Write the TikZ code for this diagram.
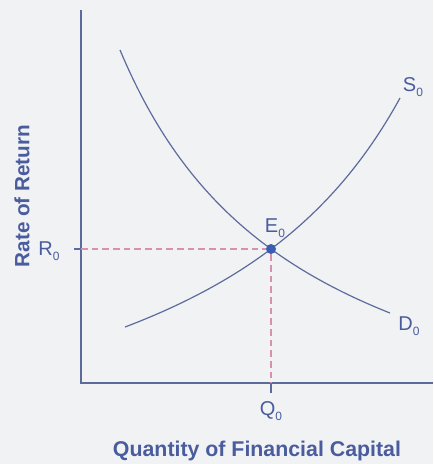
\documentclass[tikz,border=0pt]{standalone}
\usepackage{fontspec}
\setmainfont{Liberation Sans}
\definecolor{bg}{HTML}{F1F2F4}
\definecolor{curve}{HTML}{5C6B9C}
\definecolor{txt}{HTML}{4A5C9E}
\definecolor{dash}{HTML}{D98FAE}
\definecolor{dot}{HTML}{3A5DB0}
\newcommand{\zsub}{\raisebox{-0.45ex}{\fontsize{9}{9}\selectfont 0}}
\begin{document}
\begin{tikzpicture}[x=0.75pt,y=-0.75pt,
  axis/.style={draw=curve,line width=1.1pt},
  crv/.style={draw=curve,line width=0.9pt},
  guide/.style={draw=dash,line width=0.8pt,dash pattern=on 5pt off 3pt},
  lbl/.style={text=txt,font=\fontsize{15}{17}\selectfont,inner sep=0pt},
  ttl/.style={text=txt,font=\bfseries\fontsize{16}{18}\selectfont,inner sep=0pt}]
\fill[bg] (0,0) rectangle (433,464);
\useasboundingbox (0,0) rectangle (433,464);
\coordinate (top) at (81,10);
\coordinate (org) at (81,383);
\coordinate (xend) at (433,383);
\draw[axis] (top) -- (org) -- (xend);
\draw[crv] plot[domain=120:390,samples=80] (\x,{494.4-827.48/((\x+66.2)/100)});
\draw[crv] plot[domain=125:400,samples=80] (\x,{519.3-972.72/((630.9-\x)/100)});
\node[circle,fill=dot,inner sep=0pt,minimum size=7.5pt] (E) at (271,249) {};
\coordinate (ry) at (81,249);
\coordinate (rt) at (74,249);
\coordinate (qx) at (271,383);
\coordinate (qt) at (271,393);
\draw[guide] (ry) -- (E);
\draw[guide] (E) -- (qx);
\draw[axis,line width=0.8pt] (rt) -- (ry);
\draw[axis,line width=0.8pt] (qx) -- (qt);
\node[lbl] (S) at (413,87) {S\zsub};
\node[lbl] (D) at (409,326) {D\zsub};
\node[lbl] (El) at (275,228) {E\zsub};
\node[lbl] (R) at (49,251) {R\zsub};
\node[lbl] (Q) at (271,411) {Q\zsub};
\node[ttl,rotate=90,font=\bfseries\fontsize{15.5}{18}\selectfont] (ylab) at (22,196) {Rate of Return};
\node[ttl] (xlab) at (257,451) {Quantity of Financial Capital};
\end{tikzpicture}
\end{document}
